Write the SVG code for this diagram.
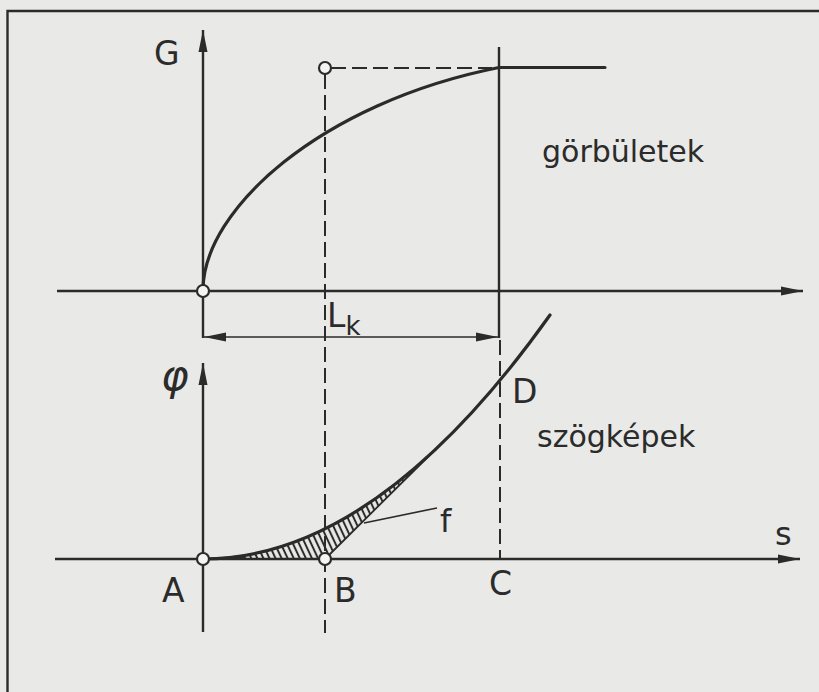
<svg xmlns="http://www.w3.org/2000/svg" width="819" height="692" viewBox="0 0 819 692">
  <defs>
    <style>
      .axis { stroke: #2b2b2b; stroke-width: 2.4; fill: none; }
      .curve { stroke: #2b2b2b; stroke-width: 3.2; fill: none; stroke-linecap: round; }
      .dash { stroke: #2b2b2b; stroke-width: 2; fill: none; stroke-dasharray: 15 6; }
      .thin { stroke: #2b2b2b; stroke-width: 1.7; fill: none; }
      .pt { fill: #f4f4f2; stroke: #2b2b2b; stroke-width: 2.2; }
      .lbl { font-family: "DejaVu Sans", "Liberation Sans", sans-serif; fill: #2b2b2b; }
    </style>
    <marker id="arr" viewBox="0 0 22 10" refX="22" refY="5" markerWidth="22" markerHeight="10" markerUnits="userSpaceOnUse" orient="auto">
      <path d="M0,0.5 L22,5 L0,9.5 Z" fill="#2b2b2b"/>
    </marker>
    <marker id="arrS" viewBox="0 0 22 10" refX="22" refY="5" markerWidth="22" markerHeight="10" markerUnits="userSpaceOnUse" orient="auto-start-reverse">
      <path d="M0,0.5 L22,5 L0,9.5 Z" fill="#2b2b2b"/>
    </marker>
    <pattern id="hatch" patternUnits="userSpaceOnUse" width="5.5" height="10" patternTransform="rotate(-25)">
      <path d="M2.75,-1 V11" stroke="#2b2b2b" stroke-width="2"/>
    </pattern>
  </defs>

  <rect x="0" y="0" width="819" height="692" fill="#e9e9e7"/>

  <!-- frame -->
  <g id="frame">
    <path class="axis" d="M819,11 H7.5 V692"/>
  </g>

  <g id="connectors">
    <!-- upper diagram axes -->
    <path class="axis" d="M203,338 V30" marker-end="url(#arr)"/>
    <path class="axis" d="M57,291 H803" marker-end="url(#arr)"/>
    <!-- verticals -->
    <path class="dash" d="M325,74 V633"/>
    <path class="dash" d="M331,68 H492"/>
    <path class="axis" d="M499,47 V338"/>
    <path class="dash" d="M500,340 V559"/>
    <!-- dimension Lk -->
    <path class="thin" d="M204,337 H498" marker-start="url(#arrS)" marker-end="url(#arr)"/>
    <!-- lower diagram axes -->
    <path class="axis" d="M203,632 V363" marker-end="url(#arr)"/>
    <path class="axis" d="M55,559 H800" marker-end="url(#arr)"/>
    <!-- f leader -->
    <path class="thin" d="M364,523 L437,508"/>
  </g>

  <g id="curve-G">
    <path class="curve" d="M203,290 C203,210 320,103 499,67.5 H605"/>
  </g>

  <g id="area-f">
    <path d="M203,559 Q325,559 447,438 L325,559 Z" fill="url(#hatch)" stroke="#2b2b2b" stroke-width="1.8" stroke-linejoin="round"/>
    <path d="M203,559 Q222,559 245,556 L245,559 Z" fill="#2b2b2b"/>
  </g>

  <g id="curve-phi">
    <path class="curve" d="M203,559 Q376.5,559 550,315"/>
  </g>

  <g id="points">
    <circle class="pt" cx="203" cy="291" r="6"/>
    <circle class="pt" cx="325" cy="68" r="6"/>
    <circle class="pt" cx="203" cy="559" r="6"/>
    <circle class="pt" cx="325" cy="559" r="6"/>
  </g>

  <g id="labels">
    <text class="lbl" x="154" y="65" font-size="33">G</text>
    <text class="lbl" x="542" y="162" font-size="30">görbületek</text>
    <text class="lbl" x="327" y="327" font-size="33">L<tspan font-size="26" dy="8">k</tspan></text>
    <text class="lbl" x="161" y="390" font-size="42" font-style="italic" font-weight="300">φ</text>
    <text class="lbl" x="512" y="403" font-size="33">D</text>
    <text class="lbl" x="537" y="447" font-size="30">szögképek</text>
    <text class="lbl" x="440" y="532" font-size="32">f</text>
    <text class="lbl" x="775" y="545" font-size="32">s</text>
    <text class="lbl" x="162" y="602" font-size="33">A</text>
    <text class="lbl" x="334" y="602" font-size="33">B</text>
    <text class="lbl" x="489" y="595" font-size="33">C</text>
  </g>
</svg>
